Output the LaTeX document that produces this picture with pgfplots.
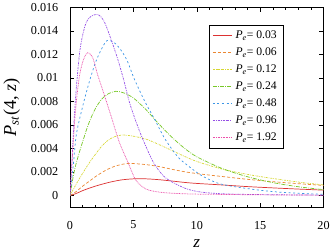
\documentclass[border=0pt]{standalone}
\usepackage{pgfplots}
\pgfplotsset{compat=1.18}
\usepackage{pgfplotstable}
\usepackage{fontspec}
\setmainfont{Liberation Serif}
\definecolor{cred}{RGB}{220,50,50}
\definecolor{corange}{RGB}{235,135,50}
\definecolor{cyellow}{RGB}{215,215,50}
\definecolor{cgreen}{RGB}{120,200,40}
\definecolor{cblue}{RGB}{60,150,230}
\definecolor{cpurple}{RGB}{150,80,230}
\definecolor{cpink}{RGB}{235,80,170}
\pgfplotstableread{
z P
0 0
0.5 0.00018
1 0.00042
1.5 0.00062
2 0.0008
3 0.0011
4 0.00132
5 0.00142
6 0.00142
7 0.00135
8 0.00124
9 0.00112
10 0.00103
12 0.0009
14 0.00076
16 0.00065
18 0.00055
20 0.00046
}\tred
\pgfplotstableread{
z P
0 0
0.5 0.00035
1 0.0008
1.5 0.0012
2 0.0016
2.5 0.00195
3 0.00225
3.5 0.00248
4 0.00263
4.5 0.00272
5 0.00272
6 0.00263
7 0.00247
8 0.00224
9 0.00203
10 0.00187
11 0.00174
12 0.00162
14 0.00138
16 0.00118
18 0.00101
20 0.00086
}\torange
\pgfplotstableread{
z P
0 0
0.5 0.001
1 0.0019
1.5 0.00275
2 0.0035
2.5 0.0042
3 0.0047
3.5 0.005
4.1 0.00515
5 0.00505
6 0.0048
7 0.00435
8 0.00385
9 0.00335
10 0.0029
12 0.00225
14 0.0018
16 0.00145
18 0.00115
20 0.0009
}\tyellow
\pgfplotstableread{
z P
0 0
0.25 0.0016
0.5 0.0028
1 0.0046
1.5 0.0062
2 0.0074
2.5 0.0082
3 0.00865
3.6 0.00887
4.2 0.00875
5 0.0083
6 0.0073
7 0.0061
8 0.005
9 0.00405
10 0.0033
12 0.0023
14 0.0016
16 0.0011
18 0.00075
20 0.0005
}\tgreen
\pgfplotstableread{
z P
0 0
0.25 0.0025
0.5 0.0052
1 0.0076
1.5 0.0096
2 0.0113
2.5 0.0125
2.94 0.0132
3.5 0.013
4 0.0124
4.5 0.0115
5 0.0101
5.5 0.0089
6 0.0078
6.67 0.0065
7.5 0.0048
8.5 0.0033
9.35 0.0025
10.3 0.00175
11.3 0.0012
12 0.00095
13 0.00075
15 0.00045
17 0.00025
20 0.0001
}\tblue
\pgfplotstableread{
z P
0 0
0.15 0.003
0.3 0.006
0.5 0.0092
0.8 0.0125
1.2 0.0145
1.6 0.0152
2.2 0.0154
2.7 0.0148
3.2 0.0134
3.74 0.0117
4.27 0.0097
4.67 0.008
5.2 0.0063
5.74 0.0048
6.54 0.0029
7.34 0.0017
8.14 0.0011
9.2 0.00057
10.3 0.0003
12 0.00015
15 0.00008
20 0.00003
}\tpurple
\pgfplotstableread{
z P
0 0
0.2 0.0035
0.4 0.0068
0.6 0.009
0.8 0.0105
1.07 0.0116
1.39 0.01215
1.8 0.0117
2.2 0.0102
2.6 0.0089
3.2 0.0069
3.87 0.0046
4.54 0.0029
5.2 0.0013
6 0.00055
7 0.0003
8 0.0002
10 0.00012
15 0.00006
20 0.00003
}\tpink
\pgfplotsset{every axis legend/.style={
  cells={anchor=west}, at={(0.84,0.914)}, anchor=north east,
  draw=black, fill=white, font=\fontsize{11.5}{13}\selectfont,
  row sep=1.2pt, inner xsep=3pt, inner ysep=3pt}}
\begin{document}
\begin{tikzpicture}
\begin{axis}[
  scale only axis,
  width=250pt, height=197pt,
  xmin=0, xmax=20, ymin=-0.001, ymax=0.016,
  xtick={0,5,10,15,20},
  minor x tick num=4,
  ytick={0,0.002,0.004,0.006,0.008,0.01,0.012,0.014,0.016},
  scaled y ticks=false,
  yticklabel style={/pgf/number format/fixed,/pgf/number format/precision=3},
  /pgf/number format/assume math mode=true,
  tick align=inside,
  major tick length=4pt, minor tick length=2.5pt,
  tick style={black, line width=0.5pt},
  axis line style={line width=0.8pt},
  font=\fontsize{12}{14}\selectfont,
  xticklabel style={yshift=-10pt},
  yticklabel style={xshift=-8pt},
  xlabel={\fontsize{17}{18}\selectfont\textit{z}},
  ylabel={\fontsize{18}{20}\selectfont\textit{P}\textsubscript{\textit{st}}(4, \textit{z})},
  xlabel style={yshift=-3pt},
  ylabel style={yshift=4pt},
  every axis plot/.append style={line width=0.7pt},
  legend image code/.code={\draw[#1, line width=0.8pt] (0pt,0pt) -- (19pt,0pt);},
]
\addplot[color=cred, solid, smooth] table[x=z,y=P]{\tred};
\addlegendentry{\textit{P}\textsubscript{\textit{e}}= 0.03}
\addplot[color=corange, dash pattern=on 3pt off 2pt, smooth] table[x=z,y=P]{\torange};
\addlegendentry{\textit{P}\textsubscript{\textit{e}}= 0.06}
\addplot[color=cyellow, dash pattern=on 2pt off 1pt on 0.6pt off 1pt, smooth] table[x=z,y=P]{\tyellow};
\addlegendentry{\textit{P}\textsubscript{\textit{e}}= 0.12}
\addplot[color=cgreen, dash pattern=on 4pt off 1.2pt on 0.8pt off 1.2pt, smooth] table[x=z,y=P]{\tgreen};
\addlegendentry{\textit{P}\textsubscript{\textit{e}}= 0.24}
\addplot[color=cblue, dash pattern=on 2pt off 2.5pt, smooth] table[x=z,y=P]{\tblue};
\addlegendentry{\textit{P}\textsubscript{\textit{e}}= 0.48}
\addplot[color=cpurple, dash pattern=on 2pt off 1pt on 0.8pt off 1pt, smooth] table[x=z,y=P]{\tpurple};
\addlegendentry{\textit{P}\textsubscript{\textit{e}}= 0.96}
\addplot[color=cpink, dash pattern=on 0.8pt off 0.8pt, smooth] table[x=z,y=P]{\tpink};
\addlegendentry{\textit{P}\textsubscript{\textit{e}}= 1.92}
\end{axis}
\end{tikzpicture}
\end{document}
